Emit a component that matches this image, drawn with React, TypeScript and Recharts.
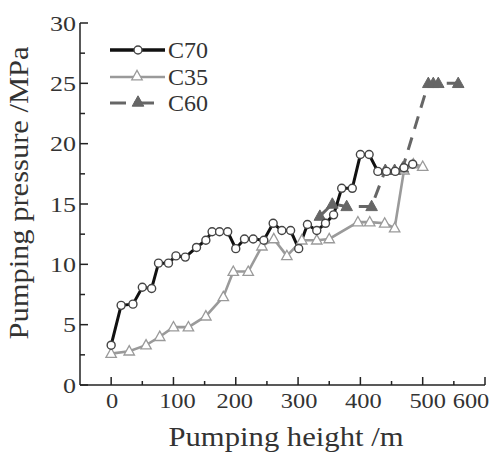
import React from "react";
import { LineChart, Line, XAxis, YAxis } from "recharts";

const c70X = [0, 16, 35, 50, 65, 76, 92, 104, 119, 137, 152, 162, 174, 187, 200, 214, 228, 245, 260, 274, 288, 301, 315, 330, 344, 357, 370, 387, 400, 414, 428, 442, 456, 470, 484];
const c70Y = [3.3, 6.6, 6.7, 8.1, 8.0, 10.1, 10.1, 10.7, 10.6, 11.4, 12.0, 12.7, 12.7, 12.7, 11.3, 12.1, 12.1, 12.0, 13.4, 12.8, 12.8, 11.3, 13.3, 12.8, 13.4, 14.1, 16.3, 16.3, 19.1, 19.1, 17.7, 17.7, 17.7, 18.0, 18.3];

const c35X = [0, 29, 56, 78, 100, 124, 152, 180, 196, 220, 242, 261, 282, 306, 330, 350, 396, 415, 439, 455, 470, 485, 500];
const c35Y = [2.6, 2.8, 3.3, 4.0, 4.8, 4.8, 5.7, 7.3, 9.4, 9.4, 11.5, 12.1, 10.7, 12.0, 12.0, 12.1, 13.5, 13.5, 13.4, 13.0, 17.8, 18.3, 18.1];

const c60X = [335, 355, 378, 418, 440, 455, 468, 509, 517, 525, 557];
const c60Y = [14.0, 15.0, 14.8, 14.8, 17.8, 17.8, 18.0, 25.0, 25.0, 25.0, 25.0];

const xTicks = [0, 50, 100, 150, 200, 250, 300, 350, 400, 450, 500, 550, 600];
const yTicks = [0, 2.5, 5, 7.5, 10, 12.5, 15, 17.5, 20, 22.5, 25, 27.5, 30];
const xLabelNudge: Record<number, number> = { 0: 1, 100: 4, 200: -1, 300: 1, 400: 3, 500: 5, 600: -14 };

const zip = (xs: number[], ys: number[]) => xs.map((x, i) => ({ x, y: ys[i] }));
const c70 = zip(c70X, c70Y);
const c35 = zip(c35X, c35Y);
const c60 = zip(c60X, c60Y);

const FONT_STYLE = { fontFamily: "'Liberation Serif', 'Times New Roman', Times, serif" };
const TXT = "#333";

const XTick = (p: any) => {
  const v = p.payload.value;
  const major = v % 100 === 0;
  const s = String(v);
  return (
    <g>
      <line x1={p.x} x2={p.x} y1={p.y} y2={p.y - (major ? 8 : 4)} stroke="#222" strokeWidth={1.5} />
      {major && (
        <text x={p.x + (xLabelNudge[v] || 0)} y={p.y + 23} textAnchor="middle" fontSize={22} style={FONT_STYLE} fill={TXT}
          textLength={s.length * 12.2} lengthAdjust="spacingAndGlyphs">{s}</text>
      )}
    </g>
  );
};

const YTick = (p: any) => {
  const v = p.payload.value;
  const major = v % 5 === 0;
  const s = String(v);
  return (
    <g>
      <line x1={p.x} x2={p.x + (major ? 8 : 5)} y1={p.y} y2={p.y} stroke="#222" strokeWidth={1.5} />
      {major && (
        <text x={p.x - 4} y={p.y + 7.5} textAnchor="end" fontSize={22} style={FONT_STYLE} fill={TXT}
          textLength={s.length * 13} lengthAdjust="spacingAndGlyphs">{s}</text>
      )}
    </g>
  );
};

const tri = (cx: number, cy: number, s: number) =>
  `M${cx},${cy - s * 0.62} L${cx + s * 0.58},${cy + s * 0.42} L${cx - s * 0.58},${cy + s * 0.42} Z`;

const CircleDot = (p: any) => (
  <circle key={p.index} cx={p.cx} cy={p.cy} r={4} fill="#fff" stroke="#444" strokeWidth={1.4} />
);
const OpenTri = (p: any) => (
  <path key={p.index} d={tri(p.cx, p.cy, 9)} fill="#fff" stroke="#9a9a9a" strokeWidth={1.3} />
);
const FillTri = (p: any) => (
  <path key={p.index} d={tri(p.cx, p.cy, 10)} fill="#666" stroke="#666" strokeWidth={1} />
);

export default function App() {
  return (
    <div style={{ position: "absolute", left: 0, top: 0, width: 492, height: 454, background: "#fff" }}>
      <LineChart width={492} height={454} margin={{ top: 23, right: 7, left: 0, bottom: 0 }}>
        <XAxis dataKey="x" type="number" domain={[-50, 600]} ticks={xTicks} interval={0} height={69}
          tickSize={0} tickMargin={0} tickLine={false} tick={<XTick />} axisLine={{ stroke: "#222", strokeWidth: 1.5 }}
          allowDataOverflow />
        <YAxis type="number" domain={[0, 30]} ticks={yTicks} interval={0} width={80}
          tickSize={0} tickMargin={0} tickLine={false} tick={<YTick />} axisLine={{ stroke: "#222", strokeWidth: 1.5 }}
          allowDataOverflow />
        <Line data={c35} dataKey="y" type="linear" stroke="#9a9a9a" strokeWidth={2.6} dot={OpenTri} isAnimationActive={false} />
        <Line data={c60} dataKey="y" type="linear" stroke="#666" strokeWidth={3} strokeDasharray="13 9" dot={FillTri} isAnimationActive={false} />
        <Line data={c70} dataKey="y" type="linear" stroke="#111" strokeWidth={3} dot={CircleDot} isAnimationActive={false} />
      </LineChart>
      <svg width={492} height={454} style={{ position: "absolute", left: 0, top: 0, pointerEvents: "none" }}>
        <text x={286} y={446} textAnchor="middle" fontSize={27} style={FONT_STYLE} fill={TXT}
          textLength={235} lengthAdjust="spacingAndGlyphs">Pumping height /m</text>
        <text x={28} y={193} transform="rotate(-90 28 193)" textAnchor="middle" fontSize={27} style={FONT_STYLE} fill={TXT}
          textLength={293} lengthAdjust="spacingAndGlyphs">Pumping pressure /MPa</text>
        <line x1={110} x2={165} y1={50} y2={50} stroke="#111" strokeWidth={3.5} />
        <circle cx={138} cy={50} r={4} fill="#fff" stroke="#444" strokeWidth={1.4} />
        <text x={168} y={58} fontSize={24} style={FONT_STYLE} fill={TXT}>C70</text>
        <line x1={110} x2={165} y1={77} y2={77} stroke="#9a9a9a" strokeWidth={2.6} />
        <path d={tri(137, 76, 9)} fill="#fff" stroke="#9a9a9a" strokeWidth={1.3} />
        <text x={168} y={85} fontSize={24} style={FONT_STYLE} fill={TXT}>C35</text>
        <line x1={110} x2={126} y1={103} y2={103} stroke="#666" strokeWidth={3} />
        <line x1={134} x2={154} y1={103} y2={103} stroke="#666" strokeWidth={3} />
        <path d={tri(138, 102, 10)} fill="#666" stroke="#666" strokeWidth={1} />
        <text x={168} y={111} fontSize={24} style={FONT_STYLE} fill={TXT}>C60</text>
      </svg>
    </div>
  );
}
